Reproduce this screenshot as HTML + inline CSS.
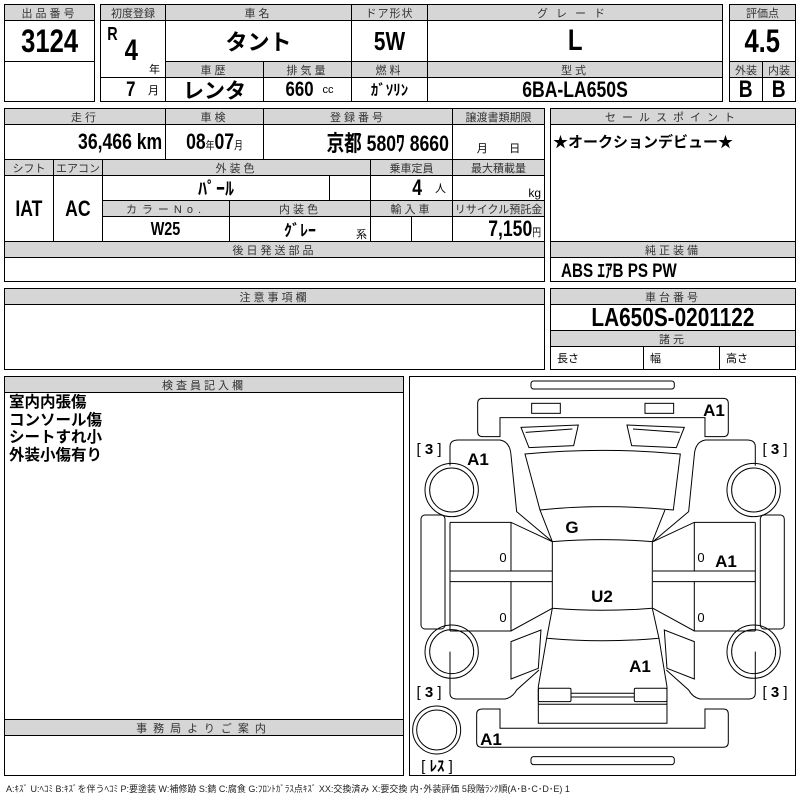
<!DOCTYPE html>
<html><head><meta charset="utf-8">
<style>
*{margin:0;padding:0;box-sizing:border-box}
body{width:800px;height:800px;background:#fff;position:relative;overflow:hidden;font-family:"Liberation Sans","Noto Sans CJK JP",sans-serif;color:#000}
.c{position:absolute;border:1px solid #000;display:flex;align-items:center;justify-content:center;white-space:nowrap;overflow:visible}
.h{background:#d6d6d6;font-size:11px;letter-spacing:3px;color:#333;font-weight:normal;overflow:hidden}
.v{font-weight:bold}
.s{font-size:11px;font-weight:normal}
.t{position:absolute;white-space:nowrap}
.n{display:inline-block;transform:scaleX(.8)}
.r{transform-origin:right center}
.l{transform-origin:left center}
</style></head><body>
<div class="c h" style="left:4px;top:4px;width:91px;height:17px">出品番号</div>
<div class="c v" style="left:4px;top:20px;width:91px;height:42px;font-size:32px"><span class="n">3124</span></div>
<div class="c" style="left:4px;top:61px;width:91px;height:41px"></div>
<div class="c h" style="left:100px;top:4px;width:66px;height:17px;letter-spacing:0">初度登録</div>
<div class="c h" style="left:165px;top:4px;width:187px;height:17px">車名</div>
<div class="c h" style="left:351px;top:4px;width:77px;height:17px;letter-spacing:1px">ドア形状</div>
<div class="c h" style="left:427px;top:4px;width:296px;height:17px;letter-spacing:8px">グレード</div>
<div class="c" style="left:100px;top:20px;width:66px;height:58px"></div>
<div class="t v" style="left:106px;top:24px;font-size:18px"><span class="n">R</span></div>
<div class="t v" style="left:123px;top:34px;font-size:30px"><span class="n">4</span></div>
<div class="t" style="left:149px;top:61px;font-size:11px">年</div>
<div class="c v" style="left:100px;top:77px;width:66px;height:25px;font-size:21px;justify-content:flex-end;padding-right:6px"><span class="n">7</span>&nbsp;&nbsp;<span class="s">月</span></div>
<div class="c v" style="left:165px;top:20px;width:187px;height:42px;font-size:22px">タント</div>
<div class="c v" style="left:351px;top:20px;width:77px;height:42px;font-size:26px"><span class="n">5W</span></div>
<div class="c v" style="left:427px;top:20px;width:296px;height:42px;font-size:30px"><span class="n">L</span></div>
<div class="c h" style="left:165px;top:61px;width:99px;height:17px">車歴</div>
<div class="c h" style="left:263px;top:61px;width:89px;height:17px">排気量</div>
<div class="c h" style="left:351px;top:61px;width:77px;height:17px">燃料</div>
<div class="c h" style="left:427px;top:61px;width:296px;height:17px">型式</div>
<div class="c v" style="left:165px;top:77px;width:99px;height:25px;font-size:21px">レンタ</div>
<div class="c v" style="left:263px;top:77px;width:89px;height:25px;font-size:21px"><span class="n">660</span>&nbsp;<span class="s">cc</span></div>
<div class="c v" style="left:351px;top:77px;width:77px;height:25px;font-size:15px">ｶﾞｿﾘﾝ</div>
<div class="c v" style="left:427px;top:77px;width:296px;height:25px;font-size:22px"><span class="n">6BA-LA650S</span></div>
<div class="c h" style="left:729px;top:4px;width:67px;height:17px;letter-spacing:0">評価点</div>
<div class="c v" style="left:729px;top:20px;width:67px;height:42px;font-size:32px"><span class="n">4.5</span></div>
<div class="c h" style="left:729px;top:61px;width:34px;height:17px;letter-spacing:0">外装</div>
<div class="c h" style="left:762px;top:61px;width:34px;height:17px;letter-spacing:0">内装</div>
<div class="c v" style="left:729px;top:77px;width:34px;height:25px;font-size:24px"><span class="n">B</span></div>
<div class="c v" style="left:762px;top:77px;width:34px;height:25px;font-size:24px"><span class="n">B</span></div>
<div class="c h" style="left:4px;top:108px;width:162px;height:17px">走行</div>
<div class="c h" style="left:165px;top:108px;width:99px;height:17px">車検</div>
<div class="c h" style="left:263px;top:108px;width:190px;height:17px">登録番号</div>
<div class="c h" style="left:452px;top:108px;width:93px;height:17px;letter-spacing:0">譲渡書類期限</div>
<div class="c v" style="left:4px;top:124px;width:162px;height:36px;font-size:22px;justify-content:flex-end;padding-right:3px"><span class="n r">36,466 km</span></div>
<div class="c v" style="left:165px;top:124px;width:99px;height:36px;font-size:22px"><span class="n">08<span class="s">年</span>07<span class="s">月</span></span></div>
<div class="c v" style="left:263px;top:124px;width:190px;height:36px;font-size:22px;justify-content:flex-end;padding-right:3px"><span class="n r">京都 580ﾜ 8660</span></div>
<div class="c" style="left:452px;top:124px;width:93px;height:36px;font-size:11px;align-items:flex-end;padding-bottom:3px">月&nbsp;&nbsp;&nbsp;&nbsp;&nbsp;&nbsp;&nbsp;日</div>
<div class="c h" style="left:4px;top:159px;width:50px;height:17px;letter-spacing:0">シフト</div>
<div class="c h" style="left:53px;top:159px;width:50px;height:17px;letter-spacing:0">エアコン</div>
<div class="c h" style="left:102px;top:159px;width:269px;height:17px">外装色</div>
<div class="c h" style="left:370px;top:159px;width:83px;height:17px;letter-spacing:0">乗車定員</div>
<div class="c h" style="left:452px;top:159px;width:93px;height:17px;letter-spacing:0">最大積載量</div>
<div class="c v" style="left:4px;top:175px;width:50px;height:67px;font-size:22px"><span class="n">IAT</span></div>
<div class="c v" style="left:53px;top:175px;width:50px;height:67px;font-size:22px"><span class="n">AC</span></div>
<div class="c v" style="left:102px;top:175px;width:228px;height:26px;font-size:18px">ﾊﾟｰﾙ</div>
<div class="c" style="left:329px;top:175px;width:42px;height:26px"></div>
<div class="c v" style="left:370px;top:175px;width:83px;height:26px;font-size:22px;justify-content:flex-end;padding-right:6px"><span class="n">4</span>&nbsp;&nbsp;<span class="s">人</span></div>
<div class="c" style="left:452px;top:175px;width:93px;height:26px;font-size:12px;justify-content:flex-end;padding-right:3px;align-items:flex-end">kg</div>
<div class="c h" style="left:102px;top:200px;width:128px;height:17px;letter-spacing:5px">カラーNo.</div>
<div class="c h" style="left:229px;top:200px;width:142px;height:17px">内装色</div>
<div class="c h" style="left:370px;top:200px;width:83px;height:17px">輸入車</div>
<div class="c h" style="left:452px;top:200px;width:93px;height:17px;letter-spacing:0">リサイクル預託金</div>
<div class="c v" style="left:102px;top:216px;width:128px;height:26px;font-size:18px"><span class="n">W25</span></div>
<div class="c v" style="left:229px;top:216px;width:142px;height:26px;font-size:16px">ｸﾞﾚｰ</div>
<div class="t" style="left:356px;top:226px;font-size:11px">系</div>
<div class="c" style="left:370px;top:216px;width:42px;height:26px"></div>
<div class="c" style="left:411px;top:216px;width:42px;height:26px"></div>
<div class="c v" style="left:452px;top:216px;width:93px;height:26px;font-size:22px;justify-content:flex-end;padding-right:3px"><span class="n r">7,150<span class="s">円</span></span></div>
<div class="c h" style="left:4px;top:241px;width:541px;height:17px">後日発送部品</div>
<div class="c" style="left:4px;top:257px;width:541px;height:25px"></div>
<div class="c h" style="left:550px;top:108px;width:246px;height:17px;letter-spacing:6px">セールスポイント</div>
<div class="c" style="left:550px;top:124px;width:246px;height:118px;align-items:flex-start;justify-content:flex-start;font-weight:bold;font-size:15px;padding-top:6px;padding-left:2px">★オークションデビュー★</div>
<div class="c h" style="left:550px;top:241px;width:246px;height:17px">純正装備</div>
<div class="c v" style="left:550px;top:257px;width:246px;height:25px;font-size:19px;justify-content:flex-start;padding-left:10px"><span class="n l">ABS ｴｱB PS PW</span></div>
<div class="c h" style="left:4px;top:288px;width:541px;height:17px">注意事項欄</div>
<div class="c" style="left:4px;top:304px;width:541px;height:66px"></div>
<div class="c h" style="left:550px;top:288px;width:246px;height:17px">車台番号</div>
<div class="c v" style="left:550px;top:304px;width:246px;height:27px;font-size:26px"><span class="n">LA650S-0201122</span></div>
<div class="c h" style="left:550px;top:330px;width:246px;height:17px">諸元</div>
<div class="c" style="left:550px;top:346px;width:94px;height:24px;font-size:11px;justify-content:flex-start;padding-left:6px">長さ</div>
<div class="c" style="left:643px;top:346px;width:77px;height:24px;font-size:11px;justify-content:flex-start;padding-left:6px">幅</div>
<div class="c" style="left:719px;top:346px;width:77px;height:24px;font-size:11px;justify-content:flex-start;padding-left:6px">高さ</div>
<div class="c h" style="left:4px;top:376px;width:400px;height:17px">検査員記入欄</div>
<div class="c" style="left:4px;top:392px;width:400px;height:328px;align-items:flex-start;justify-content:flex-start;padding:1px 0 0 4px"><div style="font-weight:bold;font-size:15.5px;line-height:17.5px">室内内張傷<br>コンソール傷<br>シートすれ小<br>外装小傷有り</div></div>
<div class="c h" style="left:4px;top:719px;width:400px;height:17px;letter-spacing:6px">事務局よりご案内</div>
<div class="c" style="left:4px;top:735px;width:400px;height:41px"></div>
<div class="c" style="left:409px;top:376px;width:387px;height:400px"></div>
<svg style="position:absolute;left:0;top:0" width="800" height="800">
<g transform="translate(405,375) scale(0.3333)" fill="none" stroke="#000" stroke-width="3">
<rect x="378" y="18" width="430" height="24" rx="8"/>
<path d="M233,70 H955 Q970,70 970,85 V170 Q970,185 955,185 H900 V128 H285 V185 H233 Q218,185 218,170 V85 Q218,70 233,70 Z"/>
<rect x="380" y="85" width="86" height="30"/>
<rect x="720" y="85" width="86" height="30"/>
<path d="M348,157 L520,150 L506,212 L372,218 Z M362,172 L502,162"/>
<path d="M838,157 L666,150 L680,212 L814,218 Z M824,172 L684,162"/>
<path d="M360,237 Q593,215 826,237 L805,405 Q593,385 405,405 Z"/>
<path d="M405,405 L442,500 Q593,488 742,500 L780,405"/>
<path d="M442,500 V700 Q593,712 742,700 V500"/>
<path d="M442,700 L425,790 Q593,805 762,790 L742,700"/>
<path d="M425,790 L400,935 V1045 H786 V935 L762,790"/>
<rect x="400" y="940" width="98" height="40" rx="4"/>
<rect x="688" y="940" width="98" height="40" rx="4"/>
<path d="M498,955 H688 M498,966 H688 M400,988 H786"/>
<path d="M233,1002 H285 V1060 H900 V1002 H955 Q970,1002 970,1017 V1102 Q970,1117 955,1117 H230 Q215,1117 215,1102 V1017 Q215,1002 233,1002 Z"/>
<rect x="378" y="1145" width="430" height="24" rx="8"/>
<g id="side">
<path d="M135,272 V215 Q135,195 160,195 H285 Q315,200 318,240 L335,410 L442,500"/>
<rect x="48" y="420" width="72" height="342" rx="12"/>
<path d="M135,442 H318 L442,500 M318,442 V588 M135,442 V768 M135,588 H442 M135,620 H442 M135,768 H318 L442,700 M318,620 V768"/>
<path d="M318,800 L408,765 L400,880 L318,912 Z"/>
<path d="M135,830 V955 Q135,972 155,972 H300 Q322,968 335,945 L402,885"/>
<circle cx="140" cy="345" r="80"/><circle cx="140" cy="345" r="66"/>
<circle cx="140" cy="830" r="80"/><circle cx="140" cy="830" r="66"/>
</g>
<use href="#side" transform="translate(1186,0) scale(-1,1)"/>
<circle cx="95" cy="1065" r="72"/><circle cx="95" cy="1065" r="60"/>
</g>
<g font-family="Liberation Sans,sans-serif" font-weight="bold" font-size="17" text-anchor="middle">
<text x="714" y="416">A1</text>
<text x="478" y="465">A1</text>
<text x="572" y="533">G</text>
<text x="726" y="567">A1</text>
<text x="602" y="602">U2</text>
<text x="640" y="672">A1</text>
<text x="491" y="745">A1</text>
</g>
<g font-family="Liberation Sans,'Noto Sans CJK JP',sans-serif" font-size="15" text-anchor="middle">
<text x="429" y="454">[ <tspan font-weight="bold">3</tspan> ]</text>
<text x="775" y="454">[ <tspan font-weight="bold">3</tspan> ]</text>
<text x="429" y="697">[ <tspan font-weight="bold">3</tspan> ]</text>
<text x="775" y="697">[ <tspan font-weight="bold">3</tspan> ]</text>
<text x="437" y="771">[ <tspan font-weight="bold">ﾚｽ</tspan> ]</text>
</g>
<g font-family="Liberation Sans,sans-serif" font-size="13" text-anchor="middle">
<text x="503" y="562">0</text><text x="503" y="622">0</text>
<text x="701" y="562">0</text><text x="701" y="622">0</text>
</g>
</svg>
<div class="t" style="left:6px;top:782px;font-size:9px;color:#222">A:ｷｽﾞ U:ﾍｺﾐ B:ｷｽﾞを伴うﾍｺﾐ P:要塗装 W:補修跡 S:錆 C:腐食 G:ﾌﾛﾝﾄｶﾞﾗｽ点ｷｽﾞ XX:交換済み X:要交換 内･外装評価 5段階ﾗﾝｸ順(A･B･C･D･E) 1</div>
</body></html>
